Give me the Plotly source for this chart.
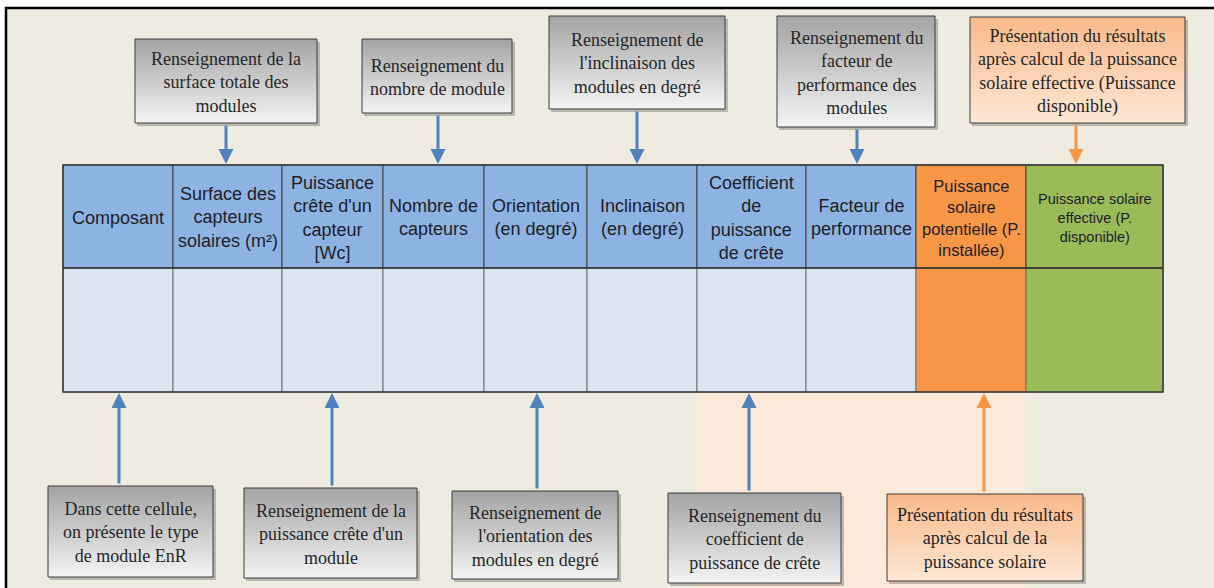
import plotly.graph_objects as go

# ---------------- content ----------------
header_labels = [
    "Composant",
    "Surface des<br>capteurs<br>solaires (m²)",
    "Puissance<br>crête d'un<br>capteur<br>[Wc]",
    "Nombre de<br>capteurs",
    "Orientation<br>(en degré)",
    "Inclinaison<br>(en degré)",
    "Coefficient<br>de<br>puissance<br>de crête",
    "Facteur de<br>performance",
    "Puissance<br>solaire<br>potentielle (P.<br>installée)",
    "Puissance solaire<br>effective (P.<br>disponible)",
]
column_kind = ["input"] * 8 + ["potential", "effective"]

top_notes = [
    "Renseignement de la<br>surface totale des<br>modules",
    "Renseignement du<br>nombre de module",
    "Renseignement de<br>l'inclinaison des<br>modules en degré",
    "Renseignement du<br>facteur de<br>performance des<br>modules",
    "Présentation du résultats<br>après calcul de la puissance<br>solaire effective (Puissance<br>disponible)",
]
top_kind = ["info", "info", "info", "info", "result"]

bottom_notes = [
    "Dans cette cellule,<br>on présente le type<br>de module EnR",
    "Renseignement de la<br>puissance crête d'un<br>module",
    "Renseignement de<br>l'orientation des<br>modules en degré",
    "Renseignement du<br>coefficient de<br>puissance de crête",
    "Présentation du résultats<br>après calcul de la<br>puissance solaire",
]
bottom_kind = ["info", "info", "info", "info", "result"]

# ---------------- geometry (pixel layout) ----------------
W, H = 1214, 588
col_edges = [63, 173, 282, 383, 484, 587, 697, 806, 916, 1026, 1163]
table_top, header_bottom, table_bottom = 165, 268, 392
header_font = [18, 18, 18, 18, 18, 18, 18, 18, 16.5, 14.5]

top_boxes = [(135, 39, 317, 123), (362, 39, 512, 113), (549, 16, 725, 109),
             (777, 16, 935, 127), (970, 17, 1185, 123)]
top_arrow_x = [226, 438, 637, 857, 1076]
bottom_boxes = [(48, 486, 213, 577), (244, 488, 417, 578), (452, 491, 618, 579),
                (668, 493, 841, 583), (887, 494, 1083, 581)]
bottom_arrow_x = [119, 332, 537, 749, 984]

# ---------------- styles ----------------
bg = "#EEECE1"
peach = "#FDE9D9"
header_fill = {"input": "#8DB3E2", "potential": "#F79646", "effective": "#9BBB59"}
body_fill = {"input": "#DBE5F1", "potential": "#F79646", "effective": "#9BBB59"}
box_grad = {"info": ("#F4F4F4", "#A3A3A3"), "result": ("#FDE8D6", "#F9B98A")}
arrow_col = {"info": "#4F81BD", "result": "#F79646"}
text_col = "#262626"

fig = go.Figure()
shapes = []
annotations = []

# outer frame and background
shapes.append(dict(type="rect", x0=6, y0=8, x1=W + 10, y1=H + 10,
                   fillcolor=bg, line=dict(color="#000000", width=2.5), layer="below"))
# peach band below the table
shapes.append(dict(type="rect", x0=col_edges[6] - 1, y0=table_bottom, x1=col_edges[9], y1=H + 5,
                   fillcolor=peach, line=dict(width=0), layer="below"))

# table cells
for i, lab in enumerate(header_labels):
    x0, x1 = col_edges[i], col_edges[i + 1]
    k = column_kind[i]
    shapes.append(dict(type="rect", x0=x0, y0=table_top, x1=x1, y1=header_bottom,
                       fillcolor=header_fill[k], line=dict(color="#404040", width=1), layer="below"))
    shapes.append(dict(type="rect", x0=x0, y0=header_bottom, x1=x1, y1=table_bottom,
                       fillcolor=body_fill[k], line=dict(color="#6F6F6F", width=1), layer="below"))
    annotations.append(dict(x=(x0 + x1) / 2, y=(table_top + header_bottom) / 2 + 1,
                            xref="x", yref="y", text=lab, showarrow=False,
                            font=dict(family="Liberation Sans, Arial", size=header_font[i], color="#1E1E28"),
                            align="center", xanchor="center", yanchor="middle"))
shapes.append(dict(type="rect", x0=col_edges[0], y0=table_top, x1=col_edges[-1], y1=table_bottom,
                   line=dict(color="#3A3A3A", width=1.5), fillcolor="rgba(0,0,0,0)", layer="below"))
shapes.append(dict(type="line", x0=col_edges[0], y0=header_bottom, x1=col_edges[-1], y1=header_bottom,
                   line=dict(color="#2E2E2E", width=1.5), layer="below"))


def add_box(box, text, kind):
    x0, y0, x1, y1 = box
    # shadow
    shapes.append(dict(type="rect", x0=x0 + 2, y0=y0 + 3, x1=x1 + 3, y1=y1 + 3,
                       fillcolor="rgba(0,0,0,0.22)", line=dict(width=0), layer="below"))
    top, bot = box_grad[kind]
    fig.add_trace(go.Scatter(
        x=[x0, x1, x1, x0, x0], y=[y0, y0, y1, y1, y0],
        mode="lines", fill="toself",
        fillgradient=dict(type="vertical", colorscale=[[0, top], [1, bot]]),
        line=dict(color="#3C3C3C", width=1),
        hoverinfo="skip", showlegend=False))
    annotations.append(dict(x=(x0 + x1) / 2, y=(y0 + y1) / 2 + 1, xref="x", yref="y",
                            text=text, showarrow=False, align="center",
                            font=dict(family="Liberation Serif, Times New Roman", size=18, color=text_col),
                            xanchor="center", yanchor="middle"))


for box, txt, k, ax in zip(top_boxes, top_notes, top_kind, top_arrow_x):
    add_box(box, txt, k)
    annotations.append(dict(x=ax, y=table_top - 1, ax=ax, ay=box[3] + 1,
                            xref="x", yref="y", axref="x", ayref="y", text="",
                            showarrow=True, arrowhead=2, arrowsize=1, arrowwidth=3,
                            arrowcolor=arrow_col[k], standoff=0))

for box, txt, k, ax in zip(bottom_boxes, bottom_notes, bottom_kind, bottom_arrow_x):
    add_box(box, txt, k)
    annotations.append(dict(x=ax, y=table_bottom + 1, ax=ax, ay=box[1] - 1,
                            xref="x", yref="y", axref="x", ayref="y", text="",
                            showarrow=True, arrowhead=2, arrowsize=1, arrowwidth=3,
                            arrowcolor=arrow_col[k], standoff=0))

fig.update_layout(
    width=W, height=H, autosize=False, margin=dict(l=0, r=0, t=0, b=0, pad=0),
    paper_bgcolor="white", plot_bgcolor="white",
    xaxis=dict(range=[0, W], visible=False, fixedrange=True),
    yaxis=dict(range=[H, 0], visible=False, fixedrange=True),
    shapes=shapes, annotations=annotations, showlegend=False,
)

post = ("document.body.style.margin='0';document.body.style.padding='0';"
        "document.body.style.overflow='hidden';"
        "var gd=document.getElementById('{plot_id}');"
        "Plotly.relayout(gd,{width:%d,height:%d});" % (W, H))
fig.write_html("out.html", config={"responsive": False, "displayModeBar": False},
               post_script=post)
